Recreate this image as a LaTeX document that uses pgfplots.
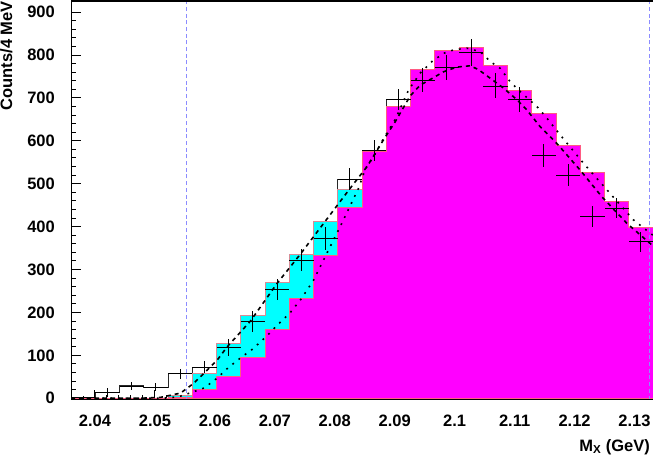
\documentclass[border=0pt]{standalone}
\usepackage{fontspec}
\setmainfont{Liberation Sans}
\usepackage{pgfplots}
\pgfplotsset{compat=1.18}
\usetikzlibrary{calc}
\definecolor{magfill}{RGB}{255,0,255}
\definecolor{cyfill}{RGB}{0,255,255}
\definecolor{magline}{RGB}{255,90,130}
\definecolor{cyline}{RGB}{215,140,150}
\definecolor{vline}{RGB}{140,140,255}
\definecolor{datahist}{RGB}{40,40,40}
\begin{document}
\begin{tikzpicture}
\begin{axis}[
  scale only axis, width=582pt, height=398.5pt,
  xmin=2.036, xmax=2.13308, ymin=-3, ymax=926,
  axis line style={draw=none},
  tick align=inside, xtick pos=left, ytick pos=left,
  xtick={2.04,2.05,2.06,2.07,2.08,2.09,2.10,2.11,2.12,2.13},
  xticklabels={2.04,2.05,2.06,2.07,2.08,2.09,2.1,2.11,2.12,2.13},
  ytick={0,100,200,300,400,500,600,700,800,900},
  yticklabels={0,100,200,300,400,500,600,700,800,900},
  minor x tick num=4, minor y tick num=4,
  major tick length=10pt, minor tick length=5pt,
  every tick/.style={black, line width=1pt},
  scaled x ticks=false, scaled y ticks=false,
  /pgf/number format/assume math mode=true,
  ticklabel style={font=\bfseries\fontsize{16.5}{18}\selectfont},
  yticklabel style={anchor=east, inner sep=0pt, xshift=-16pt},
  xticklabel style={anchor=north, inner sep=0pt, yshift=-15.5pt},
  xlabel={M\textsubscript{X} (GeV)},
  xlabel style={at={(rel axis cs:0.99485,-0.0991)}, anchor=north east, inner sep=0pt, font=\bfseries\fontsize{16.5}{18}\selectfont},
  ylabel={Counts/4 MeV},
  ylabel style={at={(rel axis cs:-0.12199,1)}, anchor=north east, inner sep=0pt, font=\bfseries\fontsize{16.5}{18}\selectfont},
  clip=true,
]
% data histogram (open)
\addplot[const plot, datahist, line width=1pt, mark=none] coordinates {
(2.036000,2.3) (2.040045,14) (2.044090,28.7) (2.048135,26) (2.052180,57) (2.056225,72)
(2.060270,118) (2.064315,178.6) (2.068360,254) (2.072405,322) (2.076450,373) (2.080495,510.6)
(2.084540,577) (2.088585,697) (2.092630,742) (2.096675,771) (2.100720,806) (2.104765,728)
(2.108810,697) (2.112855,565.6) (2.116900,520.6) (2.120945,423) (2.124990,443) (2.129035,365)
(2.133080,365)};
% cyan histogram
\addplot[const plot, fill=cyfill, draw=cyline, line width=1pt, mark=none] coordinates {
(2.036000,0) (2.040045,0) (2.044090,0) (2.048135,0) (2.052180,7) (2.056225,58.3)
(2.060270,128) (2.064315,194) (2.068360,269.5) (2.072405,334) (2.076450,413) (2.080495,485.7)
(2.084540,574) (2.088585,680) (2.092630,767) (2.096675,811) (2.100720,817) (2.104765,776)
(2.108810,718) (2.112855,663) (2.116900,590) (2.120945,526) (2.124990,458) (2.129035,397)
(2.133080,397)} \closedcycle;
% magenta histogram
\addplot[const plot, fill=magfill, draw=magline, line width=1pt, mark=none] coordinates {
(2.036000,0) (2.040045,0) (2.044090,0) (2.048135,0) (2.052180,1.5) (2.056225,20)
(2.060270,50.4) (2.064315,95.6) (2.068360,160.9) (2.072405,233) (2.076450,331.8) (2.080495,445)
(2.084540,574) (2.088585,680) (2.092630,767) (2.096675,811) (2.100720,817) (2.104765,776)
(2.108810,718) (2.112855,663) (2.116900,590) (2.120945,526) (2.124990,458) (2.129035,397)
(2.133080,397)} \closedcycle;
% vertical dashed lines
\addplot[vline, line width=1pt, dash pattern=on 4pt off 2.7pt, mark=none] coordinates {(2.0552,-3) (2.0552,926)};
\addplot[vline, line width=1pt, dash pattern=on 4pt off 2.7pt, mark=none] coordinates {(2.13246,-3) (2.13246,926)};
% dashed curve
\addplot[black, line width=1.6pt, dash pattern=on 4pt off 4pt, mark=none] coordinates {
(2.03600,0) (2.04761,0) (2.05094,2) (2.05428,12) (2.05649,35) (2.05816,58) (2.06039,89)
(2.06206,120) (2.06594,180) (2.07039,268) (2.07427,336) (2.07843,413) (2.08260,490)
(2.08538,540) (2.08815,603) (2.09010,645) (2.09259,705) (2.09426,730) (2.09593,743)
(2.09814,761) (2.10037,772) (2.10259,775) (2.10397,766) (2.10592,746) (2.10814,723)
(2.11037,696) (2.11204,672) (2.11425,633) (2.11703,594) (2.12092,532) (2.12453,470)
(2.12870,408) (2.13258,361) (2.13308,355)};
% dotted curve
\addplot[black, line width=1.6pt, dash pattern=on 1.8pt off 6pt, mark=none] coordinates {
(2.03600,0) (2.05094,0) (2.05261,1) (2.05428,5) (2.05622,14) (2.05824,24) (2.06039,47)
(2.06229,72) (2.06456,97) (2.06634,115) (2.06872,146) (2.07037,170) (2.07260,200)
(2.07442,232) (2.07645,275) (2.07847,332) (2.08076,396) (2.08251,447) (2.08398,490)
(2.08510,535) (2.08656,565) (2.08815,606) (2.09010,650) (2.09232,719) (2.09426,758)
(2.09621,785) (2.09814,804) (2.09981,812) (2.10204,816) (2.10426,808) (2.10592,785)
(2.10759,769) (2.10925,738) (2.11092,715) (2.11371,680) (2.11537,653) (2.11759,614)
(2.12147,548) (2.12563,482) (2.12980,416) (2.13258,385) (2.13308,380)};
% data points with errors
\addplot[black, only marks, mark=*, mark size=0pt, mark options={draw=none, fill=none},
  error bars/.cd, x dir=both, x explicit, y dir=both, y explicit, error mark=none,
  error bar style={line width=0.8pt, draw=black}] coordinates {
(2.0380225,2.3) +- (0.0020225,4)
(2.0420675,14) +- (0.0020225,10)
(2.0461125,28.7) +- (0.0020225,10)
(2.0501575,26) +- (0.0020225,10)
(2.0542025,57) +- (0.0020225,12)
(2.0582475,72) +- (0.0020225,14)
(2.0622925,118) +- (0.0020225,20)
(2.0663375,178.6) +- (0.0020225,24)
(2.0703825,254) +- (0.0020225,25)
(2.0744275,322) +- (0.0020225,26)
(2.0784725,373) +- (0.0020225,27)
(2.0825175,510.6) +- (0.0020225,25)
(2.0865625,577) +- (0.0020225,25)
(2.0906075,697) +- (0.0020225,25)
(2.0946525,742) +- (0.0020225,28)
(2.0986975,771) +- (0.0020225,29)
(2.1027425,806) +- (0.0020225,31)
(2.1067875,728) +- (0.0020225,29)
(2.1108325,697) +- (0.0020225,29)
(2.1148775,565.6) +- (0.0020225,26)
(2.1189225,520.6) +- (0.0020225,25)
(2.1229675,423) +- (0.0020225,24)
(2.1270125,443) +- (0.0020225,23)
(2.1310575,365) +- (0.0020225,23)
};
\draw[black, line width=1.5pt] (rel axis cs:1,1) -- (rel axis cs:0,1) -- (rel axis cs:0,0) -- (rel axis cs:1,0);
\coordinate (SW) at (rel axis cs:0,0);
\coordinate (NE) at (rel axis cs:1,1);
\end{axis}
\pgfresetboundingbox
\path[use as bounding box] ($(SW)+(-71pt,-55.5pt)$) rectangle ($(NE)+(0pt,1pt)$);
\end{tikzpicture}
\end{document}
